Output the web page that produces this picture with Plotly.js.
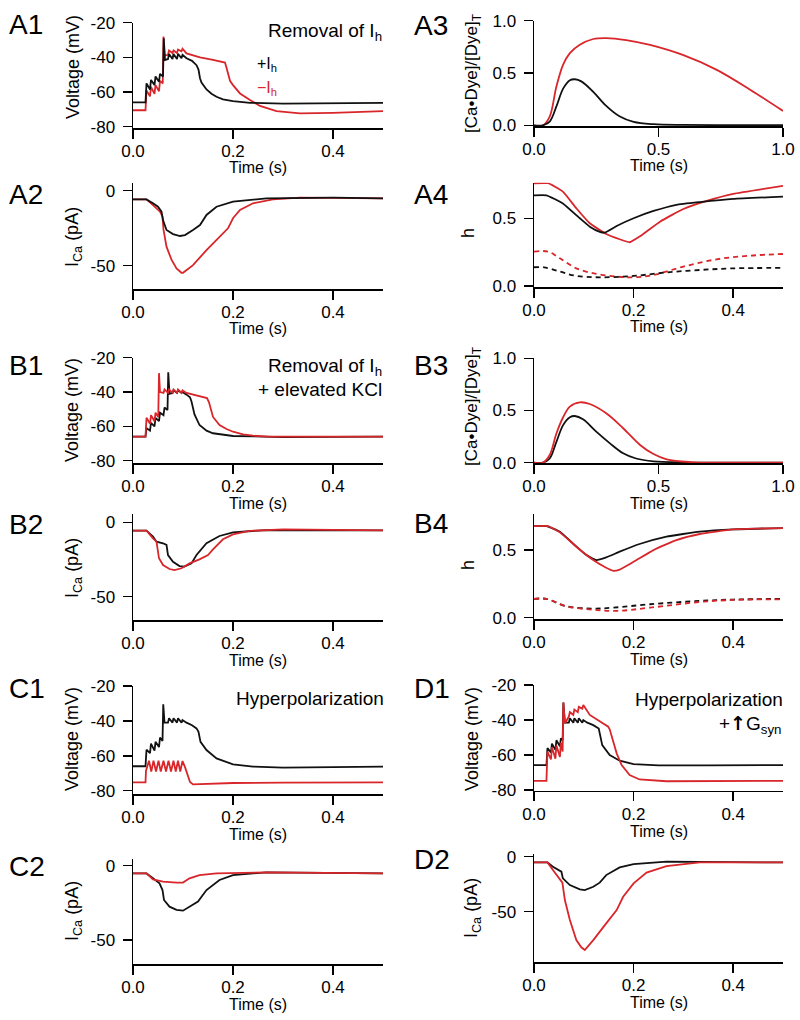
<!DOCTYPE html>
<html>
<head>
<meta charset="utf-8">
<script src="https://cdn.plot.ly/plotly-3.0.1.min.js"></script>
<style>html,body{margin:0;padding:0;background:#fff}#chart{width:800px;height:1020px}</style>
</head>
<body>
<div id="chart"></div>
<script>
// ---------------- DATA ----------------
// A1: membrane voltage (mV), +Ih (black) and -Ih (red)
const tA1k = [0,0.025,0.027,0.034,0.036,0.043,0.045,0.052,0.054,0.060,0.0615,0.064,0.070,0.072,0.079,0.081,0.088,0.090,0.097,0.099,0.107,0.118,0.127,0.131,0.134,0.137,0.147,0.157,0.167,0.18,0.2,0.234,0.3,0.4,0.5];
const vA1k = [-66,-66,-55,-58.5,-53,-56,-51,-54,-49.5,-51,-29,-41.5,-41,-38,-41,-38,-41,-38,-40.5,-38.5,-40.5,-42,-44.5,-47,-52,-54.5,-58.5,-61,-62.7,-64.2,-65.2,-66.2,-66.7,-66.5,-66.2];
const tA1r = [0,0.025,0.027,0.034,0.036,0.043,0.045,0.052,0.054,0.0595,0.061,0.063,0.070,0.072,0.079,0.081,0.088,0.090,0.097,0.099,0.107,0.12,0.134,0.16,0.184,0.187,0.191,0.194,0.2,0.214,0.234,0.254,0.287,0.334,0.4,0.5];
const vA1r = [-70.5,-70.5,-59,-62.5,-57,-61,-56,-59.5,-53.5,-55,-28,-39,-38.5,-36,-37.5,-36,-37.5,-35.5,-36.5,-35,-37.7,-39,-40,-41.5,-43,-46,-51,-53.5,-56,-60.8,-64.6,-68,-71,-72.3,-72,-71];
// A2: ICa (pA)
const tA2k = [0,0.027,0.04,0.05,0.057,0.06,0.067,0.08,0.094,0.104,0.12,0.134,0.147,0.167,0.2,0.267,0.4,0.5];
const iA2k = [-5.8,-5.8,-8.4,-10.7,-14,-19.6,-26.2,-28.9,-30.2,-29.6,-26.2,-22.9,-16.2,-10.7,-7.3,-5.1,-4.7,-5.1];
const tA2r = [0,0.027,0.04,0.054,0.059,0.061,0.067,0.077,0.087,0.097,0.1,0.12,0.147,0.174,0.19,0.2,0.214,0.24,0.28,0.334,0.5];
const iA2r = [-5.8,-5.8,-9.6,-14,-17.3,-26,-37.3,-46,-51.8,-54.7,-54.7,-49.6,-39.6,-30.7,-25.1,-18.4,-12.9,-8.4,-5.8,-4.7,-5.1];
// A3: [Ca•Dye]/[Dye]T
const tA3k = [0,0.036,0.063,0.09,0.117,0.144,0.164,0.19,0.238,0.29,0.345,0.4,0.48,0.6,0.8,1.0];
const dA3k = [0,0,0.035,0.18,0.35,0.43,0.44,0.42,0.32,0.185,0.083,0.032,0.01,0.003,0.001,0];
const tA3r = [0,0.036,0.063,0.09,0.117,0.144,0.184,0.238,0.29,0.37,0.466,0.6,0.734,0.868,1.0];
const dA3r = [0,0,0.083,0.37,0.58,0.69,0.77,0.825,0.834,0.815,0.768,0.67,0.53,0.34,0.137];
// A4: h (solid) and dashed
const tA4k = [0,0.025,0.058,0.092,0.112,0.132,0.142,0.166,0.2,0.24,0.286,0.333,0.4,0.5];
const hA4k = [0.67,0.67,0.61,0.5,0.438,0.40,0.394,0.443,0.5,0.554,0.6,0.62,0.643,0.66];
const tA4r = [0,0.028,0.058,0.085,0.112,0.145,0.172,0.192,0.212,0.253,0.3,0.347,0.4,0.5];
const hA4r = [0.759,0.759,0.697,0.574,0.463,0.384,0.345,0.323,0.365,0.475,0.569,0.628,0.68,0.739];
const tA4kd = [0,0.02,0.052,0.085,0.132,0.2,0.266,0.333,0.4,0.5];
const hA4kd = [0.138,0.138,0.106,0.074,0.064,0.074,0.1,0.118,0.13,0.133];
const tA4rd = [0,0.028,0.052,0.085,0.125,0.166,0.2,0.24,0.3,0.367,0.434,0.5];
const hA4rd = [0.254,0.254,0.204,0.13,0.089,0.069,0.064,0.081,0.143,0.197,0.224,0.236];
// B1: voltage
const tB1k = [0,0.025,0.027,0.034,0.036,0.043,0.045,0.052,0.054,0.061,0.063,0.069,0.0705,0.073,0.079,0.081,0.088,0.090,0.097,0.099,0.107,0.114,0.117,0.12,0.123,0.133,0.147,0.16,0.2,0.3,0.5];
const vB1k = [-66,-66,-61,-62.5,-58,-60,-55,-57,-52,-53.5,-49,-50.5,-28.5,-41,-40.5,-39,-40.5,-39,-40.5,-40,-41.5,-43,-45.5,-50,-53,-59.2,-62.5,-64,-65.6,-66.2,-66];
const tB1r = [0,0.025,0.027,0.034,0.036,0.043,0.045,0.0505,0.052,0.054,0.061,0.063,0.070,0.072,0.079,0.081,0.088,0.090,0.097,0.099,0.107,0.12,0.135,0.148,0.152,0.156,0.16,0.173,0.187,0.2,0.22,0.24,0.27,0.5];
const vB1r = [-66,-66,-55,-58.5,-53.5,-57,-52,-54.5,-29,-40,-40.5,-38.5,-40.5,-38.5,-40.5,-38.5,-40.5,-38.5,-40.5,-39,-40.5,-41.5,-42.5,-43.5,-46,-51,-54.5,-59.2,-61.5,-63.1,-64.6,-65.4,-66,-66];
// B2: ICa
const tB2k = [0,0.027,0.04,0.047,0.06,0.067,0.07,0.08,0.093,0.103,0.117,0.127,0.147,0.173,0.2,0.267,0.5];
const iB2k = [-5.6,-5.6,-9.6,-13,-14.1,-15.2,-22,-26.5,-29.4,-29.8,-27.6,-22,-14.1,-9.2,-6.7,-5.2,-5.4];
const tB2r = [0,0.027,0.04,0.047,0.052,0.06,0.073,0.083,0.097,0.113,0.133,0.15,0.16,0.18,0.2,0.233,0.3,0.5];
const iB2r = [-5.6,-5.6,-10.8,-13,-24.2,-28.7,-31.4,-32.1,-30.9,-27.6,-24.9,-22,-18.2,-11.4,-8.1,-5.8,-4.7,-5.4];
// B3: dye
const tB3k = [0,0.036,0.063,0.09,0.117,0.144,0.164,0.197,0.25,0.305,0.358,0.41,0.48,0.6,1.0];
const dB3k = [0,0,0.04,0.2,0.36,0.435,0.447,0.415,0.297,0.185,0.09,0.04,0.013,0.003,0];
const tB3r = [0,0.036,0.063,0.09,0.117,0.144,0.184,0.224,0.29,0.358,0.426,0.48,0.533,0.627,0.8,1.0];
const dB3r = [0,0,0.073,0.28,0.435,0.537,0.578,0.562,0.473,0.33,0.17,0.083,0.032,0.006,0.001,0];
// B4: h
const tB4k = [0,0.025,0.052,0.078,0.105,0.125,0.145,0.172,0.212,0.266,0.333,0.4,0.5];
const hB4k = [0.678,0.678,0.636,0.55,0.463,0.426,0.446,0.488,0.545,0.6,0.636,0.653,0.663];
const tB4r = [0,0.028,0.052,0.085,0.119,0.145,0.159,0.172,0.2,0.24,0.286,0.333,0.4,0.5];
const hB4r = [0.678,0.678,0.631,0.525,0.426,0.369,0.347,0.356,0.413,0.5,0.574,0.619,0.653,0.663];
const tB4kd = [0,0.025,0.065,0.119,0.159,0.233,0.333,0.4,0.5];
const hB4kd = [0.139,0.139,0.084,0.067,0.074,0.099,0.124,0.134,0.139];
const tB4rd = [0,0.025,0.065,0.119,0.166,0.233,0.333,0.4,0.5];
const hB4rd = [0.139,0.139,0.084,0.059,0.05,0.074,0.116,0.131,0.136];
// C1: voltage
const tC1k = [0,0.025,0.027,0.034,0.036,0.043,0.045,0.052,0.054,0.059,0.0605,0.063,0.070,0.072,0.079,0.081,0.088,0.090,0.097,0.099,0.107,0.118,0.127,0.131,0.135,0.147,0.167,0.2,0.24,0.3,0.4,0.5];
const vC1k = [-66,-66,-56.5,-58.5,-53,-57,-52,-55,-49.5,-51.5,-30.5,-41,-41,-38.5,-41,-38.5,-41,-38.5,-41,-39.5,-41,-42.5,-44.3,-46.2,-52,-56.7,-61.5,-64.9,-66.2,-66.8,-66.5,-66.2];
const tC1r = [0,0.025,0.026,0.032,0.0365,0.041,0.046,0.051,0.0555,0.061,0.066,0.071,0.076,0.081,0.0855,0.090,0.0945,0.099,0.104,0.109,0.114,0.12,0.14,0.2,0.3,0.5];
const vC1r = [-75.2,-75.2,-68.5,-62.8,-69,-62.8,-69,-62.8,-69,-62.8,-69,-62.8,-69,-62.8,-69,-62.8,-69,-63,-66.5,-71.5,-75,-76.4,-76.2,-75.6,-75.4,-75.2];
// C2: ICa
const tC2k = [0,0.027,0.04,0.053,0.059,0.062,0.073,0.087,0.1,0.113,0.13,0.147,0.173,0.2,0.267,0.5];
const iC2k = [-5.2,-5.2,-8.5,-11.9,-16.4,-23.1,-27.6,-29.8,-30.3,-27.6,-24.2,-16.4,-9.6,-6.3,-4.5,-5.2];
const tC2r = [0,0.027,0.04,0.06,0.087,0.1,0.113,0.133,0.167,0.267,0.5];
const iC2r = [-5.2,-5.2,-9.2,-10.8,-11.4,-11.4,-8.5,-6.3,-5.2,-4.5,-5.2];
// D1: voltage
const tD1k = [0,0.025,0.027,0.034,0.036,0.043,0.045,0.052,0.054,0.0575,0.059,0.062,0.070,0.072,0.079,0.081,0.088,0.090,0.097,0.099,0.107,0.119,0.13,0.133,0.137,0.152,0.172,0.2,0.25,0.35,0.5];
const vD1k = [-65.7,-65.7,-56,-58.5,-53.5,-57,-51.5,-55,-50.5,-51.5,-30,-41.5,-41.5,-39,-41.5,-39,-41.5,-39,-41.5,-40,-41.5,-42.9,-44.8,-49,-54.3,-60,-63.2,-65.1,-65.8,-65.8,-65.7];
const tD1r = [0,0.025,0.027,0.034,0.036,0.043,0.045,0.052,0.054,0.0575,0.059,0.062,0.070,0.072,0.079,0.081,0.088,0.090,0.097,0.099,0.112,0.132,0.149,0.152,0.159,0.166,0.176,0.192,0.212,0.266,0.5];
const vD1r = [-74.7,-74.7,-58,-62.5,-55.5,-62,-54.5,-61,-53,-58,-30,-42,-38,-35.5,-37,-34,-35.5,-32.5,-33.5,-31.4,-37.1,-41,-43.8,-45.3,-52.4,-59,-65.7,-71.4,-73.9,-74.9,-74.7];
// D2: ICa
const tD2k = [0,0.027,0.038,0.055,0.058,0.072,0.092,0.102,0.119,0.132,0.145,0.172,0.2,0.266,0.5];
const iD2k = [-5.2,-5.2,-9.1,-13.6,-19.7,-25.8,-29.7,-30.3,-27.3,-23.6,-16.7,-9.7,-6.7,-4.5,-5.2];
const tD2r = [0,0.027,0.038,0.052,0.057,0.062,0.072,0.085,0.095,0.102,0.119,0.145,0.166,0.179,0.2,0.226,0.266,0.333,0.5];
const iD2r = [-5.2,-5.2,-12.1,-21.2,-23.6,-39.4,-57.6,-75.8,-82.4,-84.8,-75.8,-60.6,-48.5,-36.4,-24.2,-14.5,-8.5,-5.2,-5.2];

// tick labels
const vTicks = [-80,-60,-40,-20];       const vTickText = ['-80','-60','-40','-20'];
const iTicks = [-50,0];                 const iTickText = ['-50','0'];
const dTicks = [0,0.5,1];               const dTickText = ['0.0','0.5','1.0'];
const hTicks = [0,0.5];                 const hTickText = ['0.0','0.5'];
const tTicksS = [0,0.2,0.4];            const tTickTextS = ['0.0','0.2','0.4'];
const tTicksL = [0,0.5,1];              const tTickTextL = ['0.0','0.5','1.0'];

// ---------------- LAYOUT / STYLE ----------------
const W = 800, H = 1020;
const FONT = 'Liberation Sans, Arial, Helvetica, sans-serif';
const BLACK = '#111111', RED = '#d8262b';
const px = x => x / W;
const py = y => 1 - y / H;
const LEFT = [px(133), px(383)], RIGHT = [px(534), px(783)];

const panels = [
  {n:1,  col:LEFT,  top:22.7,  bot:128.3, yr:[-80.9,-20],   yt:[vTicks,vTickText], long:false},
  {n:2,  col:LEFT,  top:183.3, bot:289,   yr:[-65.5,4.9],   yt:[iTicks,iTickText], long:false},
  {n:3,  col:RIGHT, top:20.7,  bot:126,   yr:[-0.007,1.0],  yt:[dTicks,dTickText], long:true},
  {n:4,  col:RIGHT, top:182.7, bot:287.3, yr:[-0.01,0.763], yt:[hTicks,hTickText], long:false},
  {n:5,  col:LEFT,  top:357.7, bot:463.3, yr:[-81.5,-20],   yt:[vTicks,vTickText], long:false},
  {n:6,  col:LEFT,  top:514.3, bot:620,   yr:[-65.7,5.4],   yt:[iTicks,iTickText], long:false},
  {n:7,  col:RIGHT, top:358.3, bot:463.3, yr:[-0.006,1.0],  yt:[dTicks,dTickText], long:true},
  {n:8,  col:RIGHT, top:514,   bot:619,   yr:[-0.01,0.767], yt:[hTicks,hTickText], long:false},
  {n:9,  col:LEFT,  top:686,   bot:794,   yr:[-81.9,-20],   yt:[vTicks,vTickText], long:false},
  {n:10, col:LEFT,  top:859,   bot:964.3, yr:[-66.4,4.5],   yt:[iTicks,iTickText], long:false},
  {n:11, col:RIGHT, top:685,   bot:790.7, yr:[-80.3,-20],   yt:[vTicks,vTickText], long:false},
  {n:12, col:RIGHT, top:854.3, bot:962.3, yr:[-96,2.2],     yt:[iTicks,iTickText], long:false}
];

const layout = {
  width: W, height: H,
  margin: {l:0, r:0, t:0, b:0, pad:0},
  paper_bgcolor: '#ffffff', plot_bgcolor: '#ffffff',
  showlegend: false,
  font: {family: FONT, color: '#000', size: 17},
  annotations: []
};

const axisCommon = {
  showgrid: false, zeroline: false, showline: true, linecolor: '#000', linewidth: 1.5,
  ticks: 'outside', ticklen: 9, tickwidth: 1.5, tickcolor: '#000',
  tickfont: {family: FONT, size: 17, color: '#000'},
  tickmode: 'array', fixedrange: true, automargin: false
};

panels.forEach(p => {
  const xs = p.n === 1 ? '' : String(p.n);
  layout['xaxis' + xs] = Object.assign({}, axisCommon, {
    domain: p.col, range: p.long ? [0, 1.0] : [0, 0.5], anchor: 'y' + xs,
    tickvals: p.long ? tTicksL : tTicksS, ticktext: p.long ? tTickTextL : tTickTextS,
    ticklabelstandoff: -2
  });
  layout['yaxis' + xs] = Object.assign({}, axisCommon, {
    domain: [py(p.bot), py(p.top)], range: p.yr, anchor: 'x' + xs,
    tickvals: p.yt[0], ticktext: p.yt[1], ticklabelstandoff: 4
  });
});

function tr(x, y, n, color, dash, smooth) {
  const xs = n === 1 ? '' : String(n);
  const line = {color: color, width: 1.8, dash: dash || 'solid'};
  if (smooth) { line.shape = 'spline'; line.smoothing = smooth; }
  return {x: x, y: y, xaxis: 'x' + xs, yaxis: 'y' + xs, type: 'scatter', mode: 'lines',
          line: line, hoverinfo: 'skip'};
}
const DASH = '5px,4px';
const data = [
  tr(tA1r, vA1r, 1, RED), tr(tA1k, vA1k, 1, BLACK),
  tr(tA2r, iA2r, 2, RED), tr(tA2k, iA2k, 2, BLACK),
  tr(tA3r, dA3r, 3, RED, null, 1), tr(tA3k, dA3k, 3, BLACK, null, 1),
  tr(tA4rd, hA4rd, 4, RED, DASH, 1), tr(tA4kd, hA4kd, 4, BLACK, DASH, 1),
  tr(tA4r, hA4r, 4, RED, null, 0.4), tr(tA4k, hA4k, 4, BLACK, null, 0.4),
  tr(tB1k, vB1k, 5, BLACK), tr(tB1r, vB1r, 5, RED),
  tr(tB2k, iB2k, 6, BLACK), tr(tB2r, iB2r, 6, RED),
  tr(tB3k, dB3k, 7, BLACK, null, 1), tr(tB3r, dB3r, 7, RED, null, 1),
  tr(tB4kd, hB4kd, 8, BLACK, DASH, 1), tr(tB4rd, hB4rd, 8, RED, DASH, 1),
  tr(tB4k, hB4k, 8, BLACK, null, 0.4), tr(tB4r, hB4r, 8, RED, null, 0.4),
  tr(tC1k, vC1k, 9, BLACK), tr(tC1r, vC1r, 9, RED),
  tr(tC2k, iC2k, 10, BLACK), tr(tC2r, iC2r, 10, RED),
  tr(tD1k, vD1k, 11, BLACK), tr(tD1r, vD1r, 11, RED),
  tr(tD2k, iD2k, 12, BLACK), tr(tD2r, iD2r, 12, RED)
];

function ann(text, x, y, opts) {
  layout.annotations.push(Object.assign({
    text: text, xref: 'paper', yref: 'paper', x: px(x), y: py(y),
    xanchor: 'center', yanchor: 'middle', showarrow: false,
    font: {family: FONT, size: 18, color: '#000'}, borderpad: 0
  }, opts || {}));
}
// panel letters
const big = {xanchor: 'left', font: {family: FONT, size: 28, color: '#000'}};
[['A1',8,24],['A2',8,194],['A3',413,25],['A4',413,194],['B1',8,365],['B3',413,365],
 ['B2',8,524],['B4',413,523],['C1',8,688],['D1',413,688],['C2',8,866],['D2',413,859]]
 .forEach(a => ann(a[0], a[1], a[2], big));
// y axis titles
const VT = 'Voltage (mV)', IT = 'I<sub>Ca</sub> (pA)', DT = '[Ca•Dye]/[Dye]<sub>T</sub>', HT = 'h';
[[VT,73,67],[IT,73,237],[DT,473,74],[HT,468,233],[VT,72,410],[IT,73,568],[DT,473,407],[HT,468,565],
 [VT,72,739],[IT,73,911],[VT,472,739],[IT,472,908]]
 .forEach(a => ann(a[0], a[1], a[2], {textangle: -90, font: {family: FONT, size: a[0] === DT ? 17 : 18, color: '#000'}}));
// x axis titles
[[258,168],[258,329],[658.5,166],[658.5,327],[258,503],[258,660],[658.5,503],[658.5,659],
 [258,834],[258,1004],[658.5,831],[658.5,1002]]
 .forEach(a => ann('Time (s)', a[0], a[1], {font: {family: FONT, size: 16, color: '#000'}}));
// condition labels
const cond = {xanchor: 'right', font: {family: FONT, size: 19, color: '#000'}};
ann('Removal of I<sub>h</sub>', 383, 32, cond);
ann('+I<sub>h</sub>', 256, 64, {xanchor: 'left', font: {family: FONT, size: 16, color: '#000'}});
ann('−I<sub>h</sub>', 256, 88, {xanchor: 'left', font: {family: FONT, size: 16, color: RED}});
ann('Removal of I<sub>h</sub>', 383, 367, cond);
ann('+ elevated KCl', 383, 389, cond);
ann('Hyperpolarization', 385, 698, cond);
ann('Hyperpolarization', 784, 699, cond);
ann('+<span style="font-family:DejaVu Sans;font-weight:bold">↑</span>G<sub>syn</sub>', 783, 724, cond);

Plotly.newPlot('chart', data, layout, {staticPlot: true, displayModeBar: false});
</script>
</body>
</html>
